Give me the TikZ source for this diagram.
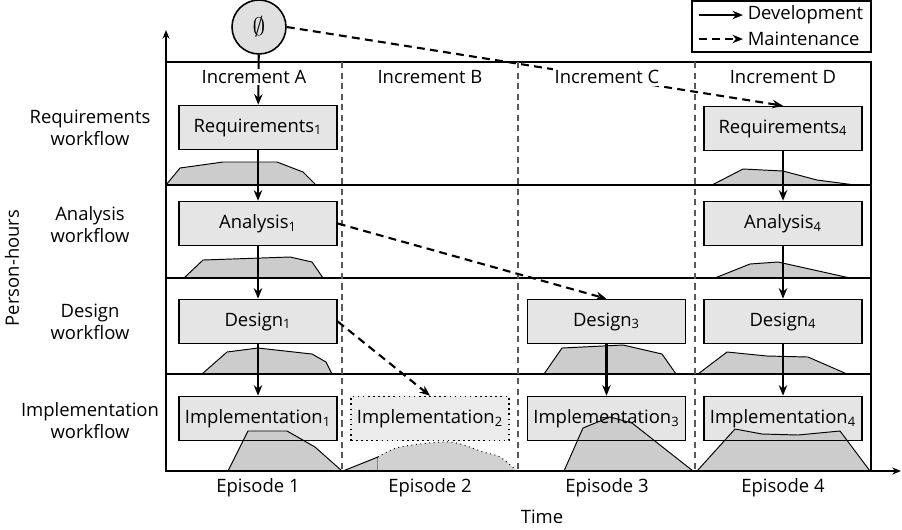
\documentclass[tikz,border=0pt]{standalone}
\usepackage{fontspec}
\setmainfont{Open Sans}
\usetikzlibrary{arrows.meta}
\pgfdeclarelayer{boxfill}
\pgfdeclarelayer{humps}
\pgfsetlayers{boxfill,humps,main}
\tikzset{
  stagebox/.style={draw, line width=0.9pt, minimum width=3.16cm, minimum height=0.88cm, inner sep=0pt},
  dev/.style={line width=1.2pt, -{Stealth[length=6pt,width=4.8pt]}},
  maint/.style={dev, dash pattern=on 4.5pt off 3pt},
  hump/.style={fill=black!20, draw, line width=0.55pt},
  divider/.style={dash pattern=on 3.5pt off 2.5pt, line width=0.6pt, black!65},
  heading/.style={fill=white, inner sep=1pt},
  axis/.style={line width=0.9pt, -{Stealth[length=5pt,width=4pt]}},
}
\begin{document}
\begin{tikzpicture}[x=0.02cm, y=-0.02cm, font=\fontsize{10.5}{12.5}\selectfont]
    \useasboundingbox (0,0) rectangle (902,529);
    \coordinate (origin) at (166,471);
    \coordinate (ytip) at (166,30);
    \coordinate (xtip) at (901,471);
    \draw[axis] (origin) -- (ytip);
    \draw[axis] (origin) -- (xtip);
    \draw[line width=0.9pt] (166,62) rectangle (871,471);
    \draw[line width=0.9pt] (166,185) -- (871,185);
    \draw[line width=0.9pt] (166,278) -- (871,278);
    \draw[line width=0.9pt] (166,374) -- (871,374);
    \draw[divider] (342,62) -- (342,471);
    \draw[divider] (518,62) -- (518,471);
    \draw[divider] (695,62) -- (695,471);
    \node[draw, circle, fill=black!12, line width=0.9pt, minimum size=1.08cm, inner sep=0pt] (start) at (259,27) {\Large$\emptyset$};
    \node[stagebox] (req1) at (258,127.5) {Requirements\textsubscript{1}};
    \node[stagebox] (ana1) at (258,223.5) {Analysis\textsubscript{1}};
    \node[stagebox] (des1) at (258,321.5) {Design\textsubscript{1}};
    \node[stagebox] (imp1) at (258,418.5) {Implementation\textsubscript{1}};
    \node[stagebox, dotted] (imp2) at (430,418.5) {Implementation\textsubscript{2}};
    \node[stagebox] (des3) at (606.5,321.5) {Design\textsubscript{3}};
    \node[stagebox] (imp3) at (606.5,418.5) {Implementation\textsubscript{3}};
    \node[stagebox] (req4) at (783,128.5) {Requirements\textsubscript{4}};
    \node[stagebox] (ana4) at (783,223.5) {Analysis\textsubscript{4}};
    \node[stagebox] (des4) at (783,321.5) {Design\textsubscript{4}};
    \node[stagebox] (imp4) at (783,418.5) {Implementation\textsubscript{4}};
    \begin{pgfonlayer}{boxfill}
    \fill[black!10] (req1.south west) rectangle (req1.north east);
    \fill[black!10] (ana1.south west) rectangle (ana1.north east);
    \fill[black!10] (des1.south west) rectangle (des1.north east);
    \fill[black!10] (imp1.south west) rectangle (imp1.north east);
    \fill[black!8] (imp2.south west) rectangle (imp2.north east);
    \fill[black!10] (des3.south west) rectangle (des3.north east);
    \fill[black!10] (imp3.south west) rectangle (imp3.north east);
    \fill[black!10] (req4.south west) rectangle (req4.north east);
    \fill[black!10] (ana4.south west) rectangle (ana4.north east);
    \fill[black!10] (des4.south west) rectangle (des4.north east);
    \fill[black!10] (imp4.south west) rectangle (imp4.north east);
    \end{pgfonlayer}
    \begin{pgfonlayer}{humps}
    \draw[hump] (166,185) -- (180,168) -- (223,162) -- (277,162) -- (303,172) -- (316,185);
    \draw[hump] (712,185) -- (743,169) -- (783,171) -- (817,180) -- (855,185);
    \draw[hump] (184,278) -- (203,260) -- (290,257) -- (312,262) -- (323,278);
    \draw[hump] (715,278) -- (750,264) -- (778,262) -- (850,278);
    \draw[hump] (202,374) -- (227,352) -- (258,348) -- (312,354) -- (326,362) -- (332,374);
    \draw[hump] (544,374) -- (562,348) -- (623,345) -- (662,354) -- (676,374);
    \draw[hump] (698,374) -- (727,352) -- (767,356) -- (808,357) -- (847,374);
    \draw[hump] (228,471) -- (248,431) -- (287,431) -- (315,447) -- (342,471);
    \draw[hump] (343,471) -- (378,457) -- (378,471);
    \fill[black!18] (378,471) -- plot[smooth] coordinates {(378,457) (400,447) (450,442) (483,452) (500,457) (517,471)} -- cycle;
    \draw[line width=0.55pt, dotted] plot[smooth] coordinates {(378,457) (400,447) (450,442) (483,452) (500,457) (517,471)};
    \draw[hump] (564,471) -- (583,428) -- (610,417) -- (632,423) -- (693,471);
    \draw[hump] (697,471) -- (735,429) -- (762,434) -- (798,435) -- (840,431) -- (870,471);
    \end{pgfonlayer}
    \draw[dev] (start) -- (req1);
    \draw[dev] (req1) -- (ana1);
    \draw[dev] (ana1) -- (des1);
    \draw[dev] (des1) -- (imp1);
    \draw[dev] (des3) -- (imp3);
    \draw[dev] (req4) -- (ana4);
    \draw[dev] (ana4) -- (des4);
    \draw[dev] (des4) -- (imp4);
    \draw[maint] (start.east) -- (req4.north);
    \draw[maint] (ana1.east) -- (des3.north);
    \draw[maint] (des1.east) -- (imp2.north);
    \node[heading] (incA) at (254,77) {Increment A};
    \node[heading] (incB) at (430,77) {Increment B};
    \node[heading] (incC) at (607,77) {Increment C};
    \node[heading] (incD) at (783,77) {Increment D};
    \node[align=center] (reqwf) at (90,128) {Requirements\\workflow};
    \node[align=center] (anawf) at (90,225) {Analysis\\workflow};
    \node[align=center] (deswf) at (90,322) {Design\\workflow};
    \node[align=center] (impwf) at (90,421) {Implementation\\workflow};
    \node[rotate=90] (ylabel) at (12,268) {Person-hours};
    \node (ep1) at (258,488) {Episode 1};
    \node (ep2) at (430,488) {Episode 2};
    \node (ep3) at (607,488) {Episode 3};
    \node (ep4) at (783,488) {Episode 4};
    \node (xlabel) at (542,517) {Time};
    \draw[line width=0.9pt] (692,1) rectangle (871,52);
    \coordinate (devA) at (699,15);
    \coordinate (devB) at (743,15);
    \coordinate (mntA) at (699,39);
    \coordinate (mntB) at (743,39);
    \draw[dev] (devA) -- (devB);
    \draw[maint] (mntA) -- (mntB);
    \node[anchor=west, inner sep=2.5pt] (devtext) at (devB) {Development};
    \node[anchor=west, inner sep=2.5pt] (mnttext) at (mntB) {Maintenance};
\end{tikzpicture}
\end{document}
